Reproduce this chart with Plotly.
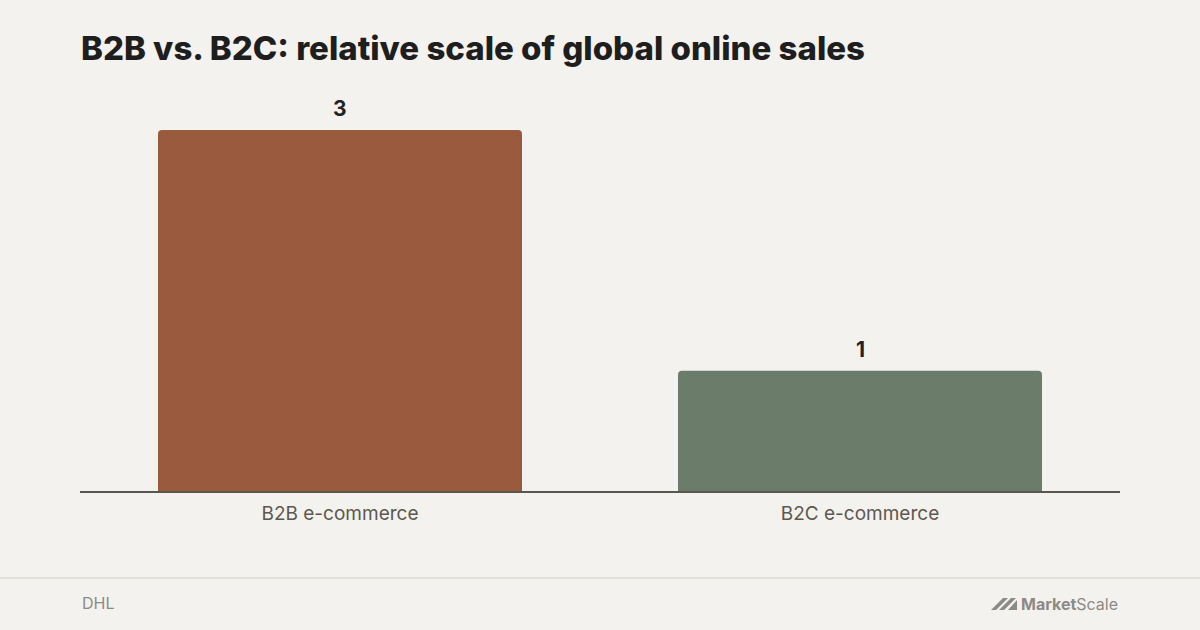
import plotly.graph_objects as go

# Data
categories = ["B2B e-commerce", "B2C e-commerce"]
values = [3, 1]
bar_colors = ["#9A5A3E", "#6B7D6A"]

title_text = "B2B vs. B2C: relative scale of global online sales"
source_text = "DHL"

# Plot area in pixels (1200x630 page)
L, R, T, B = 80, 80, 90, 139
W, H = 1200, 630
plot_w = W - L - R
plot_h = H - T - B


def px_x(px):
    return (px - L) / plot_w


def px_y(py):
    return (H - B - py) / plot_h


fig = go.Figure()

fig.add_trace(go.Bar(
    x=categories,
    y=values,
    marker=dict(color=bar_colors, cornerradius=4, line=dict(width=0)),
    hoverinfo="skip",
))

# value labels above the bars
for cat, val in zip(categories, values):
    fig.add_annotation(
        x=cat, y=val, text=f"<b>{val}</b>",
        xanchor="center", yanchor="bottom", yshift=7,
        showarrow=False,
        font=dict(family="Inter, Roboto, sans-serif", size=21, color="#222222"),
    )

fig.update_layout(
    width=W,
    height=H,
    margin=dict(l=L, r=R, t=T, b=B),
    paper_bgcolor="#F4F2EE",
    plot_bgcolor="#F4F2EE",
    bargap=0.3,
    showlegend=False,
    font=dict(family="Inter, Roboto, sans-serif", color="#555555"),
    xaxis=dict(
        showgrid=False,
        showline=True,
        linecolor="#5A5650",
        linewidth=1.5,
        ticks="",
        ticklabelstandoff=4,
        tickfont=dict(size=19, color="#5C5850"),
        fixedrange=True,
    ),
    yaxis=dict(
        range=[0, 3.333],
        showgrid=False,
        zeroline=False,
        showticklabels=False,
        visible=False,
        fixedrange=True,
    ),
)

# Title
fig.add_annotation(
    text=title_text,
    xref="paper", yref="paper",
    x=px_x(79), y=px_y(48),
    xanchor="left", yanchor="middle",
    showarrow=False,
    font=dict(family="Inter, Roboto, sans-serif", size=33, color="#1E1E1E", weight=800),
)

# Footer separator
fig.add_shape(
    type="line", xref="paper", yref="paper",
    x0=px_x(0), x1=px_x(1200), y0=px_y(578), y1=px_y(578),
    line=dict(color="#E4E1DC", width=2),
)

# Source
fig.add_annotation(
    text=source_text,
    xref="paper", yref="paper",
    x=px_x(80), y=px_y(603),
    xanchor="left", yanchor="middle",
    showarrow=False,
    font=dict(family="Inter, Roboto, sans-serif", size=16, color="#8C8A86"),
)

# MarketScale logo (mark + wordmark)
fig.add_shape(
    type="path", xref="paper", yref="paper",
    path=(f"M {px_x(991)} {px_y(610)} L {px_x(1003)} {px_y(598)} L {px_x(1008)} {px_y(598)} "
          f"L {px_x(996)} {px_y(610)} Z "
          f"M {px_x(999)} {px_y(610)} L {px_x(1011)} {px_y(598)} L {px_x(1016)} {px_y(598)} "
          f"L {px_x(1004)} {px_y(610)} Z "
          f"M {px_x(1008)} {px_y(610)} L {px_x(1017)} {px_y(600)} L {px_x(1017)} {px_y(610)} Z"),
    fillcolor="#8C8A86", line=dict(width=0),
)
fig.add_annotation(
    text="<b>Market</b>Scale",
    xref="paper", yref="paper",
    x=px_x(1120), y=px_y(604),
    xanchor="right", yanchor="middle",
    showarrow=False,
    font=dict(family="Inter, Roboto, sans-serif", size=16, color="#8C8A86"),
)

fig.write_html(
    "out.html",
    config={"displayModeBar": False},
    post_script="document.body.style.margin='0';document.body.style.background='#F4F2EE';",
)
